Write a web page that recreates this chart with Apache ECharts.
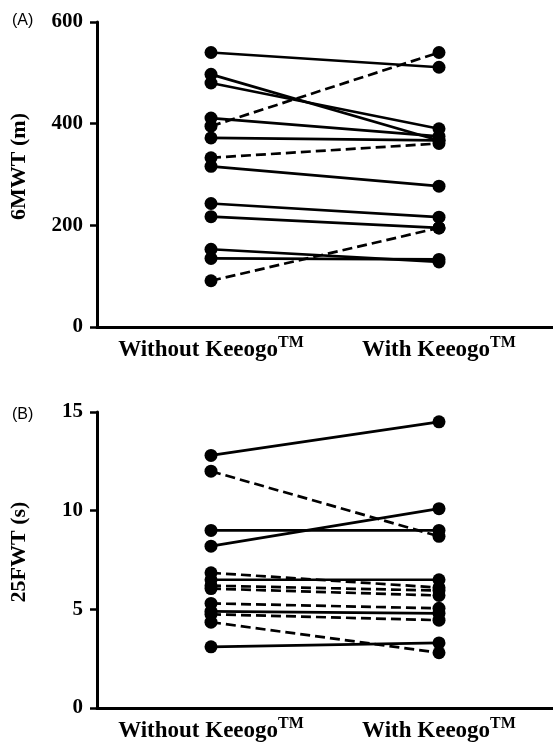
<!DOCTYPE html>
<html>
<head>
<meta charset="utf-8">
<script src="https://cdn.jsdelivr.net/npm/echarts@6/dist/echarts.min.js"></script>
<style>
html,body{margin:0;padding:0;background:#fff;}
#c{width:553px;height:743px;}
</style>
</head>
<body>
<div id="c"></div>
<script>
// Categories
var categories = ['Without Keeogo', 'With Keeogo'];

// Panel A: 6MWT (m)
var aWithout = [540, 497, 480, 395, 411, 372, 333, 316, 243, 217, 91, 153, 135];
var aWith    = [511, 367, 390, 540, 375, 367, 361, 277, 216, 195, 195, 128, 133];
var aDashed  = [false, false, false, true, false, false, true, false, false, false, true, false, false];
var aTicks = [0, 200, 400, 600];

// Panel B: 25FWT (s)
var bWithout = [12.8, 12.0, 9.0, 8.2, 6.85, 6.5, 6.2, 6.05, 5.3, 4.9, 4.75, 4.35, 3.1];
var bWith    = [14.5, 8.7, 9.0, 10.1, 6.1, 6.5, 5.95, 5.7, 5.05, 4.8, 4.45, 2.8, 3.3];
var bDashed  = [false, true, false, false, true, false, true, true, true, false, true, true, false];
var bTicks = [0, 5, 10, 15];

var serif = "'Liberation Serif', 'Times New Roman', serif";

function makeSeries(without, withV, dashed, idx) {
  return without.map(function (v, i) {
    return {
      type: 'line',
      xAxisIndex: idx,
      yAxisIndex: idx,
      data: [v, withV[i]],
      symbol: 'circle',
      symbolSize: 13,
      showSymbol: true,
      animation: false,
      itemStyle: { color: '#000' },
      lineStyle: { color: '#000', width: 2.7, type: dashed[i] ? [10, 5] : 'solid' }
    };
  });
}

function xAxis(idx) {
  return {
    type: 'category',
    gridIndex: idx,
    data: categories,
    boundaryGap: true,
    axisLine: { lineStyle: { color: '#000', width: 3 } },
    axisTick: { alignWithLabel: true, length: 6, lineStyle: { color: '#000', width: 2.5 } },
    axisLabel: {
      margin: 8,
      formatter: function (v) { return '{a|' + v + '}{s|TM}'; },
      rich: {
        a: { fontFamily: serif, fontWeight: 'bold', fontSize: 23, color: '#000', verticalAlign: 'bottom', lineHeight: 27 },
        s: { fontFamily: serif, fontWeight: 'bold', fontSize: 16, color: '#000', verticalAlign: 'top', lineHeight: 22 }
      }
    },
    splitLine: { show: false }
  };
}

function yAxis(idx, ticks, name) {
  return {
    type: 'value',
    gridIndex: idx,
    min: ticks[0],
    max: ticks[ticks.length - 1],
    interval: ticks[1] - ticks[0],
    name: name,
    nameLocation: 'middle',
    nameGap: 67,
    nameTextStyle: { fontFamily: serif, fontWeight: 'bold', fontSize: 22, color: '#000', padding: [0, 0, 0, 16] },
    axisLine: { show: true, lineStyle: { color: '#000', width: 3 } },
    axisTick: { show: true, length: 7, lineStyle: { color: '#000', width: 2.5 } },
    axisLabel: { margin: 14, fontFamily: serif, fontWeight: 'bold', fontSize: 21, color: '#000' },
    splitLine: { show: false }
  };
}

var chart = echarts.init(document.getElementById('c'), null, { renderer: 'canvas' });
chart.setOption({
  backgroundColor: '#fff',
  animation: false,
  grid: [
    { left: 97, width: 458, top: 22, height: 305 },
    { left: 97, width: 458, top: 412, height: 304 }
  ],
  xAxis: [xAxis(0), xAxis(1)],
  yAxis: [yAxis(0, aTicks, '6MWT (m)'), yAxis(1, bTicks, '25FWT (s)')],
  graphic: [
    { type: 'text', left: 12, top: 13, style: { text: '(A)', font: '16px "Liberation Sans", Arial, sans-serif', fill: '#000' } },
    { type: 'text', left: 12, top: 407, style: { text: '(B)', font: '16px "Liberation Sans", Arial, sans-serif', fill: '#000' } }
  ],
  series: makeSeries(aWithout, aWith, aDashed, 0).concat(makeSeries(bWithout, bWith, bDashed, 1))
});
</script>
</body>
</html>
